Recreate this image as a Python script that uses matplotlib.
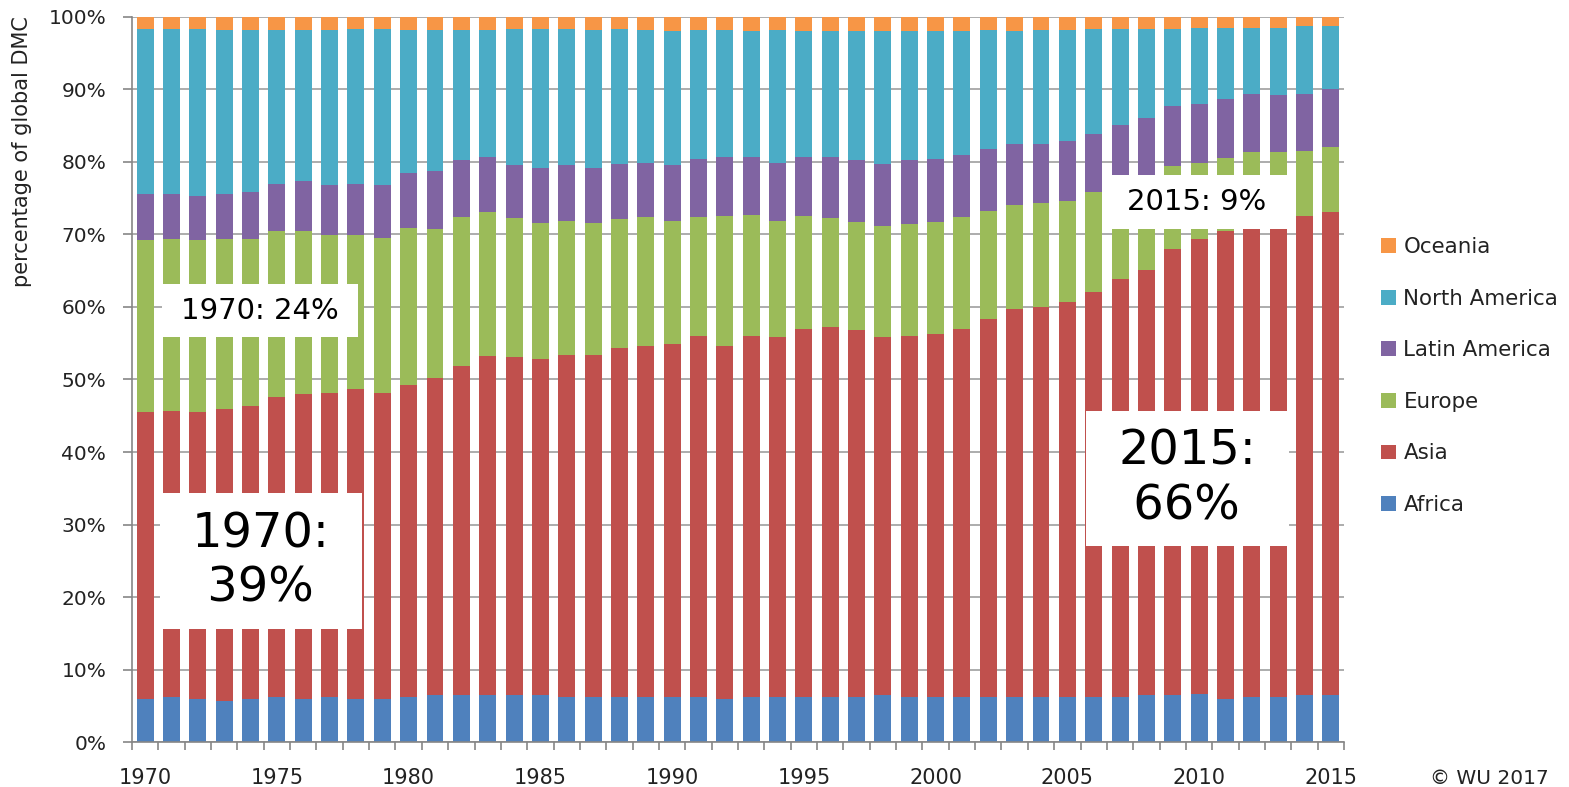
import matplotlib
matplotlib.use("Agg")
import matplotlib.pyplot as plt
from matplotlib.patches import Patch, Rectangle
import numpy as np

years = list(range(1970, 2016))

africa = [6.0, 6.2, 6.0, 5.7, 6.0, 6.2, 6.0, 6.2, 6.0, 6.0,
          6.2, 6.5, 6.5, 6.5, 6.5, 6.5, 6.3, 6.2, 6.2, 6.2,
          6.2, 6.3, 6.0, 6.3, 6.3, 6.2, 6.3, 6.3, 6.5, 6.3,
          6.2, 6.2, 6.3, 6.3, 6.2, 6.3, 6.3, 6.3, 6.5, 6.5,
          6.6, 6.0, 6.3, 6.3, 6.5, 6.5]
asia = [39.5, 39.5, 39.5, 40.3, 40.3, 41.4, 42.0, 42.0, 42.7, 42.2,
        43.0, 43.7, 45.4, 46.8, 46.6, 46.3, 47.1, 47.2, 48.1, 48.4,
        48.7, 49.7, 48.6, 49.7, 49.5, 50.8, 51.0, 50.5, 49.3, 49.7,
        50.1, 50.8, 52.0, 53.4, 53.8, 54.4, 55.8, 57.5, 58.6, 61.5,
        62.8, 64.4, 64.9, 65.1, 66.1, 66.6]
europe = [23.7, 23.7, 23.7, 23.4, 23.1, 22.8, 22.4, 21.7, 21.2, 21.3,
          21.7, 20.5, 20.5, 19.8, 19.1, 18.7, 18.5, 18.1, 17.8, 17.8,
          17.0, 16.4, 18.0, 16.7, 16.1, 15.6, 14.9, 14.9, 15.4, 15.4,
          15.4, 15.4, 14.9, 14.4, 14.3, 13.9, 13.7, 12.7, 12.7, 11.4,
          10.4, 10.1, 10.2, 10.0, 8.9, 8.9]
latin_america = [6.3, 6.1, 6.1, 6.1, 6.4, 6.6, 7.0, 6.9, 7.1, 7.3,
                 7.6, 8.0, 7.8, 7.6, 7.4, 7.7, 7.7, 7.7, 7.6, 7.5,
                 7.7, 8.0, 8.0, 7.9, 8.0, 8.0, 8.4, 8.5, 8.5, 8.8,
                 8.7, 8.5, 8.5, 8.3, 8.2, 8.3, 8.1, 8.6, 8.3, 8.3,
                 8.2, 8.2, 7.9, 7.8, 7.8, 8.0]
north_america = [22.8, 22.8, 23.0, 22.7, 22.4, 21.2, 20.8, 21.4, 21.3, 21.5,
                 19.7, 19.5, 18.0, 17.5, 18.7, 19.1, 18.7, 19.0, 18.6, 18.3,
                 18.4, 17.8, 17.6, 17.4, 18.3, 17.4, 17.4, 17.8, 18.3, 17.8,
                 17.6, 17.1, 16.5, 15.6, 15.7, 15.3, 14.4, 13.2, 12.2, 10.6,
                 10.5, 9.8, 9.2, 9.3, 9.4, 8.7]
oceania = [1.7, 1.7, 1.7, 1.8, 1.8, 1.8, 1.8, 1.8, 1.7, 1.7,
           1.8, 1.8, 1.8, 1.8, 1.7, 1.7, 1.7, 1.8, 1.7, 1.8,
           2.0, 1.8, 1.8, 2.0, 1.8, 2.0, 2.0, 2.0, 2.0, 2.0,
           2.0, 2.0, 1.8, 2.0, 1.8, 1.8, 1.7, 1.7, 1.7, 1.7,
           1.5, 1.5, 1.5, 1.5, 1.3, 1.3]

series_names = ["Africa", "Asia", "Europe", "Latin America", "North America", "Oceania"]
series_values = [africa, asia, europe, latin_america, north_america, oceania]
series_colors = ["#4F81BD", "#C0504D", "#9BBB59", "#8064A2", "#4BACC6", "#F79646"]

y_ticks = list(range(0, 101, 10))
y_tick_labels = [f"{v}%" for v in y_ticks]
x_label_years = [1970, 1975, 1980, 1985, 1990, 1995, 2000, 2005, 2010, 2015]

fig = plt.figure(figsize=(15.69, 7.87), dpi=100)
ax = fig.add_axes([132/1569, 1-742.3/787, 1212/1569, 725.6/787])

x = np.arange(len(years))
bottom = np.zeros(len(years))
handles = []
for name, vals, col in zip(series_names, series_values, series_colors):
    v = np.array(vals, dtype=float)
    ax.bar(x, v, bottom=bottom, width=0.645, color=col, zorder=2, linewidth=0)
    bottom += v
    handles.append(Patch(facecolor=col, edgecolor='none', label=name))

ax.set_xlim(-0.5, len(years) - 0.5)
ax.set_ylim(0, 100)

ax.set_yticks(y_ticks)
ax.set_yticklabels(y_tick_labels)
ax.yaxis.grid(True, color="#a6a6a6", linewidth=1.3, zorder=0)
ax.set_axisbelow(True)

ax.set_xticks([years.index(y) for y in x_label_years])
ax.set_xticklabels([str(y) for y in x_label_years])
ax.set_xticks(np.arange(-0.5, len(years), 1.0), minor=True)
ax.tick_params(axis='x', which='major', length=0, pad=18.5, labelsize=15, colors="#222222")
ax.tick_params(axis='x', which='minor', length=6, width=1.2, color="#868686", direction='out')
ax.tick_params(axis='y', which='major', length=6.5, width=1.2, color="#868686",
               direction='out', pad=12, labelsize=14.5, labelcolor="#222222")

for s in ['top', 'right']:
    ax.spines[s].set_visible(False)
for s in ['left', 'bottom']:
    ax.spines[s].set_color("#868686")
    ax.spines[s].set_linewidth(1.2)

ax.set_ylabel("percentage of global DMC", fontsize=15, color="#222222",
              ha='center', va='center')
ax.yaxis.set_label_coords(-0.0908, 0.8135)

# annotation boxes (white, covering bars)
def box(x0, x1, y0, y1, text, size):
    ax.add_patch(Rectangle((x0, y0), x1 - x0, y1 - y0, facecolor='white',
                           edgecolor='none', zorder=5))
    ax.text((x0 + x1) / 2, (y0 + y1) / 2, text, fontsize=size, ha='center',
            va='center', multialignment='left', zorder=6, color='black')

box(0.64, 8.08, 55.8, 63.2, "1970: 24%", 21)
box(0.57, 8.22, 15.6, 34.4, "1970:\n 39%", 34.5)
box(36.37, 43.42, 70.8, 78.2, "2015: 9%", 21)
box(35.69, 43.42, 27.0, 45.7, "2015:\n 66%", 34.5)

leg = fig.legend(handles=handles[::-1], loc='center left',
                 bbox_to_anchor=(1381/1569, 1-376/787), bbox_transform=fig.transFigure,
                 frameon=False, fontsize=15.4, handlelength=0.7, handleheight=0.7,
                 handletextpad=0.35, labelspacing=1.48, borderpad=0, borderaxespad=0)
for t in leg.get_texts():
    t.set_color("#222222")

fig.text(1430/1569, 1-784/787, "© WU 2017", fontsize=14.5, ha='left', va='baseline',
         color="#222222")

fig.savefig("out.png", dpi=100)
